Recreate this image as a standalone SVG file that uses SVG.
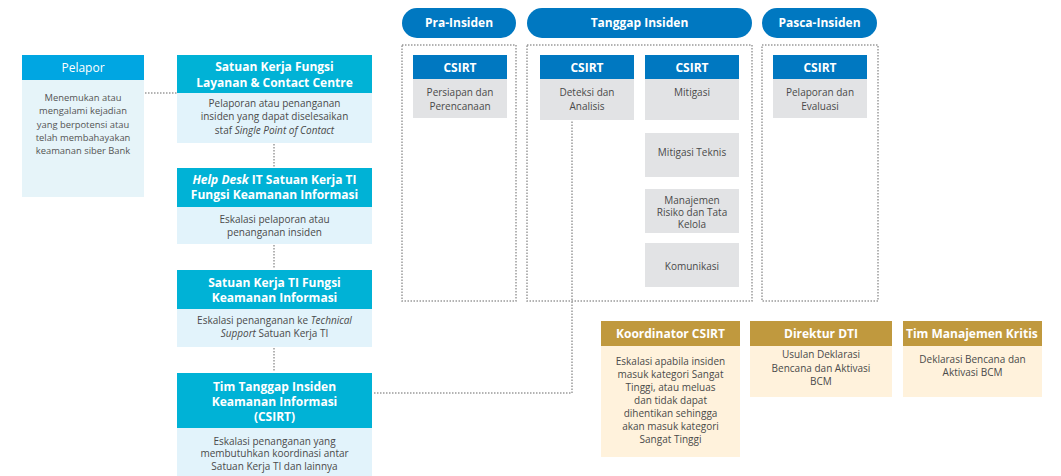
<svg xmlns="http://www.w3.org/2000/svg" width="1061" height="476" viewBox="0 0 1061 476">
<defs>
<style>
.t{font-family:"Open Sans","Noto Sans",sans-serif;text-anchor:middle}
.hw{fill:#fff;font-weight:bold;font-size:12px}
.bd{fill:#4a4a4a;font-size:10px}
.gy{fill:#555;font-size:9.4px}
.dot{fill:none;stroke:#9a9a9a;stroke-width:1.5;stroke-dasharray:1.5 1.5}
.teal{fill:#00b2d6}
.lb{fill:#e2f3fb}
.blue{fill:#0078c1}
.grey{fill:#e2e3e5}
.gold{fill:#c0993e}
.cream{fill:#fff2dc}
</style>
<clipPath id="clipTim"><rect x="903" y="321" width="139" height="25"/></clipPath>
</defs>
<rect width="1061" height="476" fill="#fff"/>

<g id="connectors">
<line class="dot" x1="145" y1="93" x2="177" y2="93"/>
<line class="dot" x1="274" y1="144" x2="274" y2="167"/>
<line class="dot" x1="274" y1="245" x2="274" y2="269"/>
<line class="dot" x1="274" y1="348" x2="274" y2="372"/>
<polyline class="dot" points="374,393 572,393 572,120"/>
</g>

<g id="containers">
<rect class="dot" x="402" y="45" width="114" height="256"/>
<rect class="dot" x="527" y="45" width="225" height="256"/>
<rect class="dot" x="762" y="45" width="116" height="256"/>
</g>

<g id="pelapor">
<rect x="22" y="55" width="122" height="25" fill="#00a6e2"/>
<rect x="22" y="80" width="122" height="117" fill="#e6f4f9"/>
<text class="t" x="83" y="72" fill="#fff" font-size="12px">Pelapor</text>
<text class="t gy" x="83"><tspan x="83" y="101">Menemukan atau</tspan><tspan x="83" y="114.3">mengalami kejadian</tspan><tspan x="83" y="127.6">yang berpotensi atau</tspan><tspan x="83" y="140.9">telah membahayakan</tspan><tspan x="83" y="154.2">keamanan siber Bank</tspan></text>
</g>

<g id="sk-layanan">
<rect class="teal" x="177" y="55" width="195" height="38"/>
<rect class="lb" x="177" y="93" width="195" height="50"/>
<text class="t hw"><tspan x="274.5" y="71">Satuan Kerja Fungsi</tspan><tspan x="274.5" y="87">Layanan &amp; Contact Centre</tspan></text>
<text class="t bd"><tspan x="274.5" y="107">Pelaporan atau penanganan</tspan><tspan x="274.5" y="120.3">insiden yang dapat diselesaikan</tspan><tspan x="274.5" y="133.6">staf <tspan font-style="italic">Single Point of Contact</tspan></tspan></text>
</g>

<g id="helpdesk">
<rect class="teal" x="177" y="168" width="195" height="39"/>
<rect class="lb" x="177" y="207" width="195" height="37"/>
<text class="t hw"><tspan x="274.5" y="184"><tspan font-style="italic">Help Desk</tspan> IT Satuan Kerja TI</tspan><tspan x="274.5" y="199">Fungsi Keamanan Informasi</tspan></text>
<text class="t bd"><tspan x="274.5" y="223">Eskalasi pelaporan atau</tspan><tspan x="274.5" y="235.5">penanganan insiden</tspan></text>
</g>

<g id="sk-ti">
<rect class="teal" x="177" y="270" width="195" height="39"/>
<rect class="lb" x="177" y="309" width="195" height="38"/>
<text class="t hw"><tspan x="274.5" y="287">Satuan Kerja TI Fungsi</tspan><tspan x="274.5" y="302">Keamanan Informasi</tspan></text>
<text class="t bd"><tspan x="274.5" y="324">Eskalasi penanganan ke <tspan font-style="italic">Technical</tspan></tspan><tspan x="274.5" y="337"><tspan font-style="italic">Support</tspan> Satuan Kerja TI</tspan></text>
</g>

<g id="csirt-tim">
<rect class="teal" x="177" y="373" width="195" height="55"/>
<rect class="lb" x="177" y="428" width="195" height="48"/>
<text class="t hw"><tspan x="274.5" y="390.5">Tim Tanggap Insiden</tspan><tspan x="274.5" y="405.5">Keamanan Informasi</tspan><tspan x="274.5" y="420.5">(CSIRT)</tspan></text>
<text class="t bd"><tspan x="274.5" y="444.5">Eskalasi penanganan yang</tspan><tspan x="274.5" y="457">membutuhkan koordinasi antar</tspan><tspan x="274.5" y="469.5">Satuan Kerja TI dan lainnya</tspan></text>
</g>

<g id="pill-pra">
<rect class="blue" x="402" y="8" width="114" height="30" rx="15"/>
<text class="t hw" x="459" y="27">Pra-Insiden</text>
</g>
<g id="pill-tanggap">
<rect class="blue" x="527" y="8" width="225" height="30" rx="15"/>
<text class="t hw" x="639.5" y="27">Tanggap Insiden</text>
</g>
<g id="pill-pasca">
<rect class="blue" x="762" y="8" width="115" height="30" rx="15"/>
<text class="t hw" x="819.5" y="27">Pasca-Insiden</text>
</g>

<g id="csirt-pra">
<rect class="blue" x="413" y="55" width="94" height="24"/>
<rect class="grey" x="413" y="79" width="94" height="39"/>
<text class="t hw" x="460" y="72">CSIRT</text>
<text class="t bd"><tspan x="460" y="96">Persiapan dan</tspan><tspan x="460" y="109.5">Perencanaan</tspan></text>
</g>
<g id="csirt-deteksi">
<rect class="blue" x="540" y="55" width="94" height="24"/>
<rect class="grey" x="540" y="79" width="94" height="41"/>
<text class="t hw" x="587" y="72">CSIRT</text>
<text class="t bd"><tspan x="587" y="96">Deteksi dan</tspan><tspan x="587" y="109.5">Analisis</tspan></text>
</g>
<g id="csirt-mitigasi">
<rect class="blue" x="645" y="55" width="94" height="24"/>
<rect class="grey" x="645" y="79" width="94" height="41"/>
<text class="t hw" x="692" y="72">CSIRT</text>
<text class="t bd" x="692" y="96">Mitigasi</text>
</g>
<g id="mitigasi-teknis">
<rect class="grey" x="645" y="133" width="94" height="44"/>
<text class="t bd" x="692" y="156">Mitigasi Teknis</text>
</g>
<g id="manajemen-risiko">
<rect class="grey" x="645" y="189" width="94" height="44"/>
<text class="t bd" font-size="8.6px"><tspan x="692" y="203.5">Manajemen</tspan><tspan x="692" y="215.5">Risiko dan Tata</tspan><tspan x="692" y="227.5">Kelola</tspan></text>
</g>
<g id="komunikasi">
<rect class="grey" x="645" y="243" width="94" height="44"/>
<text class="t bd" x="692" y="270">Komunikasi</text>
</g>
<g id="csirt-pasca">
<rect class="blue" x="773" y="55" width="94" height="24"/>
<rect class="grey" x="773" y="79" width="94" height="39"/>
<text class="t hw" x="820" y="72">CSIRT</text>
<text class="t bd"><tspan x="820" y="96">Pelaporan dan</tspan><tspan x="820" y="109.5">Evaluasi</tspan></text>
</g>

<g id="koordinator">
<rect class="gold" x="601" y="321" width="139" height="25"/>
<rect class="cream" x="601" y="346" width="139" height="111"/>
<text class="t hw" x="670.5" y="337.5">Koordinator CSIRT</text>
<text class="t bd"><tspan x="670.5" y="365">Eskalasi apabila insiden</tspan><tspan x="670.5" y="377.5">masuk kategori Sangat</tspan><tspan x="670.5" y="390.8">Tinggi, atau meluas</tspan><tspan x="670.5" y="403.5">dan tidak dapat</tspan><tspan x="670.5" y="416.8">dihentikan sehingga</tspan><tspan x="670.5" y="429.5">akan masuk kategori</tspan><tspan x="670.5" y="442.8">Sangat Tinggi</tspan></text>
</g>
<g id="direktur">
<rect class="gold" x="750" y="321" width="142" height="25"/>
<rect class="cream" x="750" y="346" width="142" height="51"/>
<text class="t hw" x="821" y="337.5">Direktur DTI</text>
<text class="t bd"><tspan x="821" y="358">Usulan Deklarasi</tspan><tspan x="821" y="371.8">Bencana dan Aktivasi</tspan><tspan x="821" y="385.2">BCM</tspan></text>
</g>
<g id="tim-manajemen">
<rect class="gold" x="903" y="321" width="139" height="25"/>
<rect class="cream" x="903" y="346" width="139" height="51"/>
<text class="hw" x="906" y="337.5" font-family="Open Sans, Noto Sans, sans-serif" clip-path="url(#clipTim)">Tim Manajemen Kritis</text>
<text class="t bd"><tspan x="972.5" y="363">Deklarasi Bencana dan</tspan><tspan x="972.5" y="376.3">Aktivasi BCM</tspan></text>
</g>
</svg>
